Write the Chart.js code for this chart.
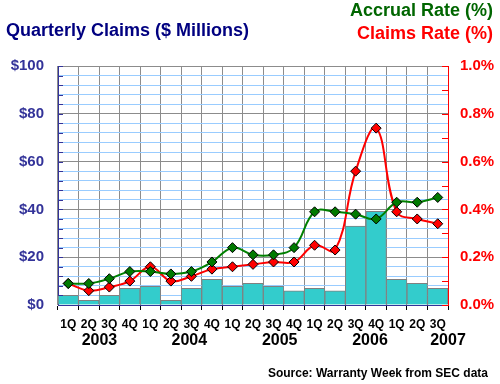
<!DOCTYPE html>
<html>
<head>
<meta charset="utf-8">
<script src="https://cdn.jsdelivr.net/npm/chart.js@4.4.1/dist/chart.umd.min.js"></script>
<style>
  body { margin: 0; background: #fff; }
  canvas { display: block; }
</style>
</head>
<body>
<canvas id="myChart" width="500" height="384"></canvas>
<script>
var quarters = ['1Q', '2Q', '3Q', '4Q', '1Q', '2Q', '3Q', '4Q', '1Q', '2Q', '3Q', '4Q', '1Q', '2Q', '3Q', '4Q', '1Q', '2Q', '3Q'];
var years = ['2003', '2004', '2005', '2006', '2007'];
var claims = [4.0, 2.0, 4.0, 7.0, 7.8, 2.0, 7.0, 10.7, 7.8, 9.1, 7.8, 5.9, 7.0, 5.9, 33.0, 39.2, 10.7, 9.1, 7.0];
var accrualRate = [0.09, 0.09, 0.11, 0.14, 0.14, 0.13, 0.14, 0.18, 0.24, 0.21, 0.21, 0.24, 0.39, 0.39, 0.38, 0.36, 0.43, 0.43, 0.45];
var claimsRate = [0.09, 0.06, 0.075, 0.10, 0.16, 0.10, 0.12, 0.15, 0.16, 0.17, 0.18, 0.18, 0.25, 0.23, 0.56, 0.74, 0.39, 0.36, 0.34];

var FONT = "'Liberation Sans', Arial, sans-serif";
Chart.defaults.font.family = FONT;

// years sit under the quarter groups (positions in category units)
var yearAt = [1.52, 5.9, 10.3, 14.7, 18.5];

var extras = {
  id: 'extras',
  afterDraw: function (chart) {
    var ctx = chart.ctx;
    var x = chart.scales.x, y = chart.scales.y, y1 = chart.scales.y1;
    var area = chart.chartArea;
    ctx.save();
    // inward tick marks
    ctx.lineWidth = 1;
    ctx.strokeStyle = '#333399';
    y.ticks.forEach(function (t) {
      var py = Math.round(y.getPixelForValue(t.value)) + 0.5;
      ctx.beginPath(); ctx.moveTo(area.left, py); ctx.lineTo(area.left + 5, py); ctx.stroke();
    });
    ctx.strokeStyle = '#ff0000';
    y1.ticks.forEach(function (t) {
      var py = Math.round(y1.getPixelForValue(t.value)) + 0.5;
      ctx.beginPath(); ctx.moveTo(area.right - 6, py); ctx.lineTo(area.right, py); ctx.stroke();
    });
    // year labels
    ctx.fillStyle = '#000';
    ctx.font = 'bold 16px ' + FONT;
    ctx.textAlign = 'center';
    ctx.textBaseline = 'alphabetic';
    years.forEach(function (yr, i) {
      ctx.fillText(yr, x.getPixelForValue(yearAt[i]), 345);
    });
    // titles
    ctx.font = 'bold 18px ' + FONT;
    ctx.textAlign = 'left';
    ctx.fillStyle = '#000080';
    ctx.fillText('Quarterly Claims ($ Millions)', 6, 36);
    ctx.textAlign = 'right';
    ctx.fillStyle = '#006600';
    ctx.fillText('Accrual Rate (%)', 493, 16);
    ctx.fillStyle = '#ff0000';
    ctx.fillText('Claims Rate (%)', 493, 39);
    ctx.font = 'bold 12px ' + FONT;
    ctx.fillStyle = '#000';
    ctx.fillText('Source: Warranty Week from SEC data', 488, 377);
    ctx.restore();
  }
};

var ctx = document.getElementById('myChart').getContext('2d');
var chart = new Chart(ctx, {
  type: 'bar',
  data: {
    labels: quarters,
    datasets: [{
      type: 'line',
      label: 'Accrual Rate (%)',
      data: accrualRate,
      yAxisID: 'y1',
      borderColor: '#008000',
      borderWidth: 2,
      backgroundColor: '#008000',
      pointStyle: 'rectRot',
      pointRadius: 5,
      pointBorderColor: '#000',
      pointBorderWidth: 1,
      pointBackgroundColor: '#007a00',
      tension: 0.4,
      order: 0
    }, {
      type: 'line',
      label: 'Claims Rate (%)',
      data: claimsRate,
      yAxisID: 'y1',
      borderColor: '#ff0000',
      borderWidth: 2,
      backgroundColor: '#ff0000',
      pointStyle: 'rectRot',
      pointRadius: 5,
      pointBorderColor: '#000',
      pointBorderWidth: 1,
      pointBackgroundColor: '#ff0000',
      tension: 0.4,
      order: 1
    }, {
      label: 'Quarterly Claims',
      data: claims,
      yAxisID: 'y',
      backgroundColor: '#33cccc',
      borderColor: '#808080',
      borderWidth: 1,
      barPercentage: 1,
      categoryPercentage: 1,
      order: 2
    }]
  },
  options: {
    responsive: false,
    animation: false,
    layout: { padding: { top: 66, left: 0, right: 0, bottom: 0 } },
    plugins: {
      legend: { display: false },
      tooltip: { enabled: false }
    },
    scales: {
      x: {
        afterFit: function (s) { s.height = 79; },
        grid: { color: '#8c8c8c', tickColor: '#000', tickLength: 5, offset: true },
        border: { color: '#333399' },
        ticks: { color: '#000', font: { size: 12, weight: 'bold' }, padding: 7, maxRotation: 0, autoSkip: false }
      },
      y: {
        position: 'left',
        min: 0, max: 100,
        afterFit: function (s) { s.width = 58; },
        grid: {
          drawTicks: false,
          color: function (c) { return c.tick && c.tick.value % 20 === 0 ? '#8c8c8c' : '#99ccff'; }
        },
        border: { color: '#333399' },
        ticks: {
          stepSize: 4,
          autoSkip: false,
          padding: 14,
          color: '#333399',
          font: { size: 15, weight: 'bold' },
          callback: function (v) { return v % 20 === 0 ? '$' + v : ''; }
        }
      },
      y1: {
        position: 'right',
        min: 0, max: 1.0,
        afterFit: function (s) { s.width = 52; },
        grid: { drawOnChartArea: false, drawTicks: false },
        border: { color: '#ff0000' },
        ticks: {
          stepSize: 0.1,
          autoSkip: false,
          padding: 12,
          color: '#ff0000',
          font: { size: 15, weight: 'bold' },
          callback: function (v) { return Math.round(v * 10) % 2 === 0 ? v.toFixed(1) + '%' : ''; }
        }
      }
    }
  },
  plugins: [extras]
});
</script>
</body>
</html>
